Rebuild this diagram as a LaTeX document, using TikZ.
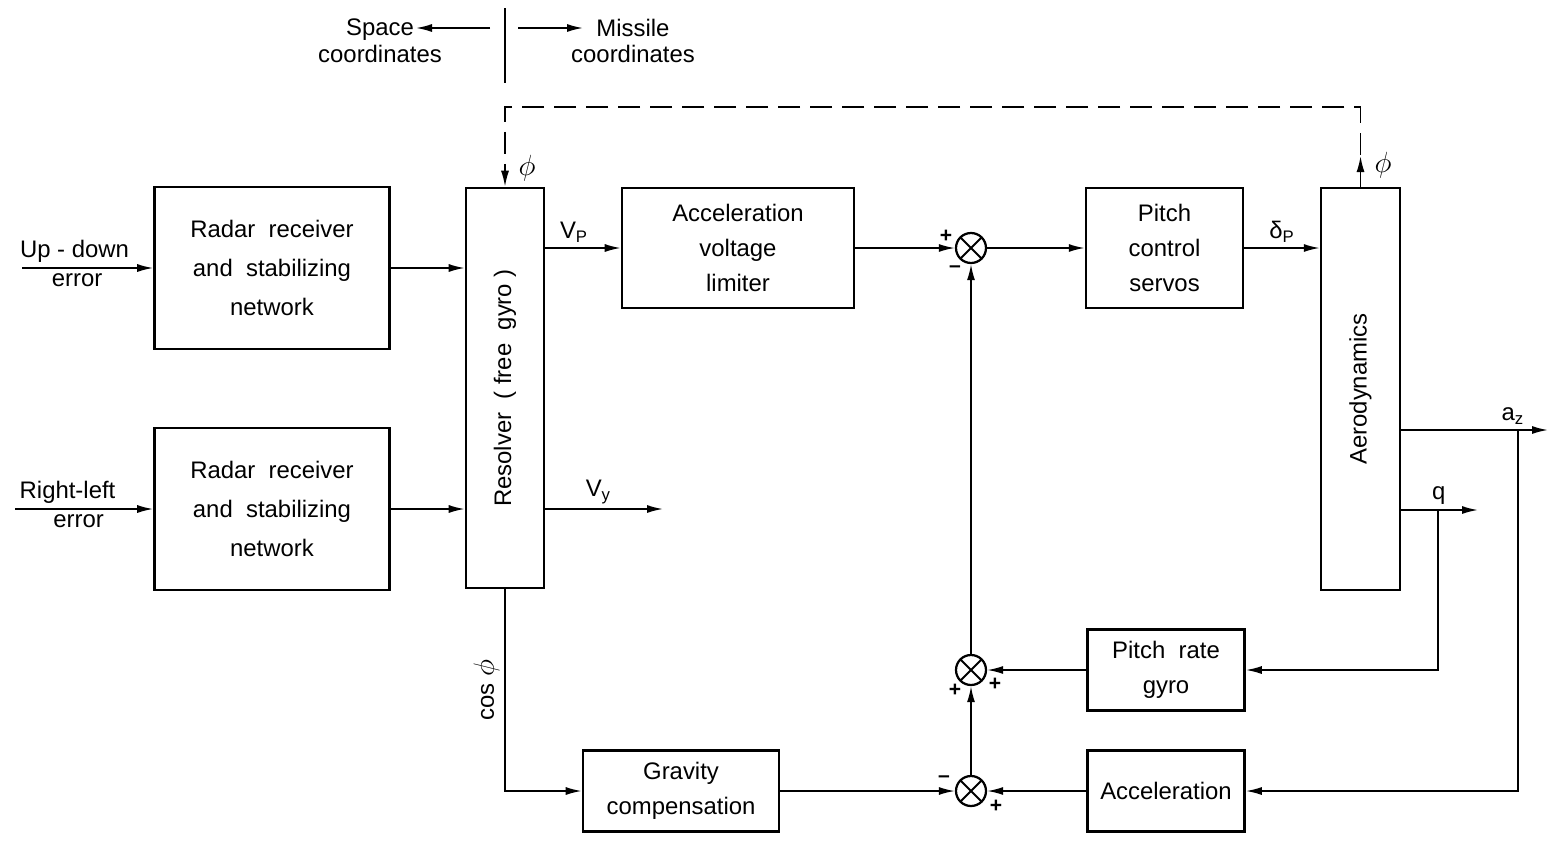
\documentclass[tikz,border=0pt]{standalone}
\usepackage{fontspec}
\setmainfont{Liberation Sans}
\usetikzlibrary{arrows.meta,calc,positioning}

\begin{document}
\begin{tikzpicture}[x=0.25mm,y=-0.25mm,
    font=\fontsize{17}{25}\selectfont,
    blk/.style={draw,line width=1.8pt,align=center,inner sep=0pt},
    sig/.style={line width=1.2pt,-{Latex[length=4mm,width=2mm]}},
    sumnode/.style={circle,draw,line width=1.6pt,minimum size=7.5mm,inner sep=0pt,
      path picture={\draw[line width=1.4pt]
        (path picture bounding box.north west) -- (path picture bounding box.south east)
        (path picture bounding box.north east) -- (path picture bounding box.south west);}},
    sgn/.style={font=\fontsize{15}{15}\selectfont\bfseries,inner sep=0pt},
    philbl/.style={font=\fontsize{22}{22}\selectfont}]
  \useasboundingbox (0,0) rectangle (1556,843);

  \node[align=center,font=\fontsize{17}{19}\selectfont] (spacelbl) at (380,41) {Space\\coordinates};
  \node[align=center,font=\fontsize{17}{19}\selectfont] (missilelbl) at (633,41) {Missile\\coordinates};
  \coordinate (divtop) at (505,8);
  \coordinate (divbot) at (505,83);
  \coordinate (spacestart) at (490,28);
  \coordinate (spaceend) at (416,28);
  \coordinate (missstart) at (518,28);
  \coordinate (missend) at (583,28);
  \draw[line width=1.6pt] (divtop) -- (divbot);
  \draw[sig] (spacestart) -- (spaceend);
  \draw[sig] (missstart) -- (missend);

  \node[blk,minimum width=58.75mm,minimum height=40.5mm] (radar1) at (272,268)
    {Radar\ \ receiver\\[3pt]and\ \ stabilizing\\[3pt]network};
  \node[blk,minimum width=58.75mm,minimum height=40.5mm] (radar2) at (272,509)
    {Radar\ \ receiver\\[3pt]and\ \ stabilizing\\[3pt]network};
  \node[blk,minimum width=19.5mm,minimum height=100mm] (resolver) at (505,388) {};
  \node[rotate=90] (resolvertxt) at (resolver) {Resolver\ \ (\ free\ \ gyro\ )};
  \node[blk,minimum width=58mm,minimum height=30mm] (limiter) at (738,248)
    {Acceleration\\voltage\\limiter};
  \node[blk,minimum width=39.25mm,minimum height=30mm] (servos) at (1164.5,248)
    {Pitch\\control\\servos};
  \node[blk,minimum width=19.75mm,minimum height=100.5mm] (aero) at (1360.5,389) {};
  \node[rotate=90] (aerotxt) at (aero) {Aerodynamics};
  \node[blk,minimum width=39.25mm,minimum height=20.25mm] (rategyro) at (1166,670)
    {Pitch\ \ rate\\gyro};
  \node[blk,minimum width=39.25mm,minimum height=20.25mm] (accel) at (1166,791)
    {Acceleration};
  \node[blk,minimum width=49mm,minimum height=20.25mm] (gravity) at (681,791)
    {Gravity\\compensation};
  \node[sumnode] (s1) at (971,248) {};
  \node[sumnode] (s2) at (971,670) {};
  \node[sumnode] (s3) at (971,791) {};

  \node[sgn] (s1p) at ($(s1)+(-25,-12)$) {+};
  \node[sgn] (s1m) at ($(s1)+(-16,21)$) {--};
  \node[sgn] (s2pa) at ($(s2)+(-16,20)$) {+};
  \node[sgn] (s2pb) at ($(s2)+(24,14)$) {+};
  \node[sgn] (s3m) at ($(s3)+(-27,-12)$) {--};
  \node[sgn] (s3p) at ($(s3)+(25,15)$) {+};

  \coordinate (in1) at (22,268);
  \coordinate (in2) at (15,509);
  \draw[sig] (in1) -- (radar1) node[pos=0.4,above] (updown) {Up - down}
    node[pos=0.42,below] (err1) {error};
  \draw[sig] (in2) -- (radar2) node[pos=0.38,above] (rightleft) {Right-left}
    node[pos=0.46,below] (err2) {error};
  \draw[sig] (radar1) -- (radar1 -| resolver.west);
  \draw[sig] (radar2) -- (radar2 -| resolver.west);
  \draw[sig] (limiter -| resolver.east) -- (limiter) node[pos=0.38,above] (vp) {V\textsubscript{P}};
  \coordinate (vyend) at (663,509);
  \draw[sig] (vyend -| resolver.east) -- (vyend) node[pos=0.45,above] (vy) {V\textsubscript{y}};
  \draw[sig] (limiter) -- (s1);
  \draw[sig] (s1) -- (servos);
  \draw[sig] (servos) -- (servos -| aero.west) node[midway,above] (dp) {δ\textsubscript{P}};

  \coordinate (phiR) at (1360.5,107);
  \coordinate (phiL) at (505,107);
  \coordinate (phiup) at (1360.5,156);
  \draw[sig,dash pattern=on 5.5mm off 2.5mm] (aero.north) -- (phiR) -- (phiL) -- (resolver.north);
  \draw[sig] (aero.north) -- (phiup);
  \node[philbl] (phi1) at (527,168) {$\phi$};
  \node[philbl] (phi2) at (1383,165) {$\phi$};

  \coordinate (azend) at (1548,430);
  \coordinate (azbr) at (1518,430);
  \draw[sig] (azend -| aero.east) -- (azend) node[pos=0.76,above] (az) {a\textsubscript{z}};
  \draw[sig] (azbr) |- (accel);
  \coordinate (qend) at (1478,510);
  \coordinate (qbr) at (1438,510);
  \draw[sig] (qend -| aero.east) -- (qend) node[pos=0.49,above] (q) {q};
  \draw[sig] (qbr) |- (rategyro);

  \draw[sig] (rategyro) -- (s2);
  \draw[sig] (accel) -- (s3);
  \draw[sig] (gravity) -- (s3);
  \draw[sig] (s3) -- (s2);
  \draw[sig] (s2) -- (s1);
  \draw[sig] (resolver.south) |- (gravity) node[pos=0.25,rotate=90,anchor=south] (cosphi) {cos {\fontsize{20}{20}\selectfont$\phi$}};
\end{tikzpicture}
\end{document}
